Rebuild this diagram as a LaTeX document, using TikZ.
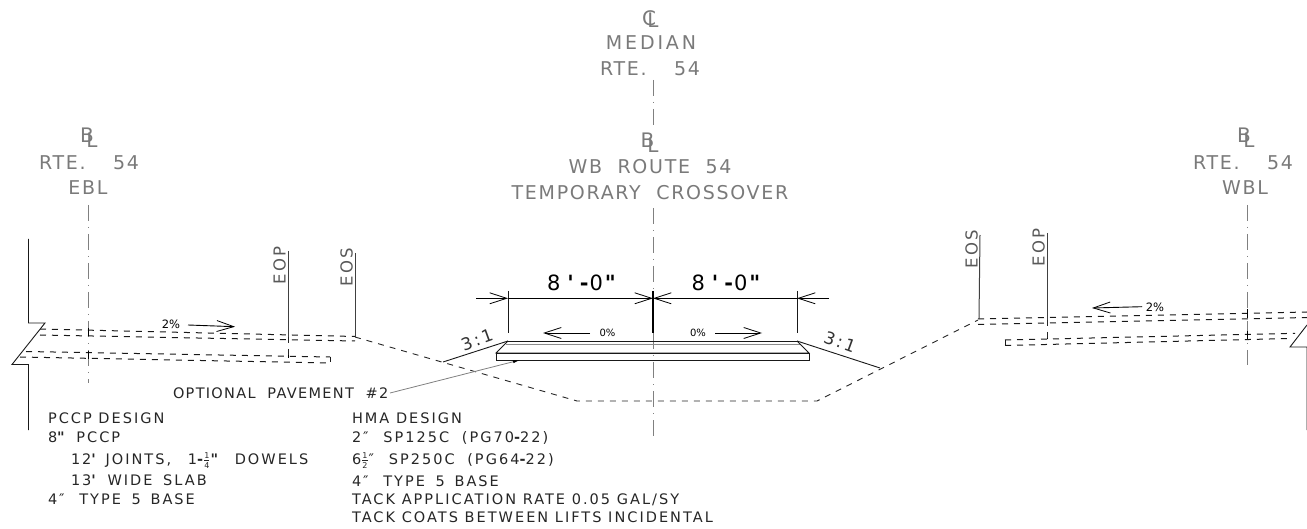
\documentclass[tikz,border=0pt]{standalone}
\usepackage{fontspec}
\setmainfont{DejaVu Sans}
\newfontfamily\cadsmall[LetterSpace=14]{DejaVu Sans}
\newfontfamily\cadopt[LetterSpace=9,WordSpace=2]{DejaVu Sans}
\newfontfamily\cadbig[LetterSpace=9,WordSpace=2]{DejaVu Sans}
\newfontfamily\cadmed[LetterSpace=15]{DejaVu Sans}
\newfontfamily\cadplain{DejaVu Sans}
\usetikzlibrary{arrows.meta}
\newcommand\cadfr[2]{\ensuremath{\frac{\hbox{\fontsize{8}{8}\selectfont #1}}{\hbox{\fontsize{8}{8}\selectfont #2}}}}
\newcommand\cadtick{{\bfseries\char39}}
\newcommand\cadqt{{\bfseries\char34}}
\newcommand\caddash{{\bfseries\char45}}
\newcommand\cadeight{8\hspace{7pt}\cadtick\hspace{6pt}\caddash\hspace{1pt}0\hspace{2pt}\cadqt}
\tikzset{
  x=1pt,y=-1pt,
  txt/.style={inner sep=0pt,outer sep=0pt,anchor=base west,font=\fontsize{14.5}{15}\selectfont\cadsmall,text=black!85},
  big/.style={inner sep=0pt,outer sep=0pt,anchor=base,font=\fontsize{19}{22}\selectfont\cadbig,text=black!52},
  sym/.style={inner sep=0pt,outer sep=0pt,anchor=base,font=\fontsize{20}{22}\selectfont,text=black!52},
  eo/.style={inner sep=0pt,outer sep=0pt,anchor=base west,rotate=90,font=\fontsize{16.5}{18}\selectfont\cadmed,text=black!65},
  pct/.style={inner sep=0pt,outer sep=0pt,anchor=center,font=\fontsize{10}{11}\selectfont,text=black},
  dimtxt/.style={inner sep=0pt,outer sep=0pt,anchor=base,font=\fontsize{21}{22}\selectfont\cadplain,text=black},
  slopetxt/.style={inner sep=0pt,outer sep=0pt,anchor=center,font=\fontsize{17}{18}\selectfont\cadmed,text=black!80},
  cl/.style={draw=black!50,line width=1pt,dash pattern=on 16pt off 6pt on 1pt off 6pt},
  road/.style={draw=black!90,line width=1pt,dash pattern=on 6pt off 6pt},
  grade/.style={draw=black!85,line width=0.9pt,dash pattern=on 6pt off 6pt},
  line/.style={draw=black!90,line width=0.9pt},
  eoline/.style={draw=black!75,line width=1pt},
  barb/.style={-{Straight Barb[length=17pt,width=11pt,line width=0.8pt]},draw=black,line width=0.9pt},
  tk/.style={draw=black,line width=1pt}
}
\begin{document}
\begin{tikzpicture}
\useasboundingbox (0,0) rectangle (1307,529);
% center lines
\draw[cl] (88,205) -- (88,383);
\draw[cl] (1247,205) -- (1247,365);
\draw[cl] (653,80) -- (653,125);
\draw[cl] (653,208) -- (653,291);
\draw[cl] (653,333) -- (653,440);
% break lines
\draw[line] (28.5,239) -- (28.5,323) -- (45,323) -- (12,364.5) -- (28.5,364.5) -- (28.5,430);
\draw[line] (1307,220) -- (1307,305);
\draw[line] (1307,325) -- (1290,347) -- (1307,347) -- (1307,430);
% road surfaces, left
\draw[road] (40,329) -- (355,336.5);
\draw[road] (40,335) -- (355,341);
\draw[road] (26,351.5) -- (330,357);
\draw[road] (20,357) -- (330,363);
\draw[line] (330,357) -- (330,362);
% road surfaces, right
\draw[road] (978,319) -- (1307,312);
\draw[road] (978,324.5) -- (1307,317.5);
\draw[road] (1005,340) -- (1295,333.3);
\draw[road] (1005,345.5) -- (1290,338.5);
\draw[line] (1005,340) -- (1005,345);
% crossing ticks
\foreach \a/\b/\c in {88/328/336,88/351/359,1247/309/318,1247/331/339,288/337/341,288/355/358,1047/316/323,1047/336/339}
  \draw[tk] (\a,\b) -- (\a,\c);
% EOP / EOS
\draw[eoline] (288,251) -- (288,337);
\draw[grade] (288,337) -- (288,357);
\draw[eoline] (355,253) -- (355,337);
\draw[eoline] (980,235) -- (979,319);
\draw[eoline] (1047,233) -- (1047,320);
\draw[grade] (1047,320) -- (1047,338);
\node[eo] (eopL) at (285.5,284.5) {EOP};
\node[eo] (eosL) at (352.5,286.5) {EOS};
\node[eo] (eosR) at (977.5,268.5) {EOS};
\node[eo] (eopR) at (1044.5,266.5) {EOP};
% grade lines
\draw[grade] (355,337) -- (577,401) -- (817,401) -- (978,320);
\draw[line] (443,362) -- (508,341);
\draw[line] (797,341) -- (880,368);
% pavement
\draw[line] (508,341) -- (797,341);
\draw[draw=black!45,line width=0.8pt] (506,344) -- (800,344);
\draw[line] (508,341) -- (496,353) -- (809,353) -- (797,341);
\draw[line] (496,353) rectangle (809.5,360);
% dimensions
\coordinate (dl) at (508,298.3);
\coordinate (dc) at (653,298.3);
\coordinate (dr) at (797,298.3);
\draw[line] (508,291) -- (508,333);
\draw[line] (797,291) -- (797,333);
\draw[draw=black,line width=1.2pt] (653,291) -- (653,333);
\draw[barb] (476,298.3) -- (dl);
\draw[barb] (dl) -- (dc);
\draw[barb] (829,298.3) -- (dr);
\draw[barb] (dr) -- (dc);
\node[dimtxt] (dimL) at (581.5,291) {\cadeight};
\node[dimtxt] (dimR) at (726,291) {\cadeight};
% 0 percent
\node[pct] (zeroL) at (607.5,333) {0\%};
\node[pct] (zeroR) at (698,333) {0\%};
\draw[barb] (590,333) -- (543,333);
\draw[barb] (715,333) -- (762,333);
% 2 percent
\node[pct,font=\fontsize{11.5}{12}\selectfont] (twoL) at (171,324) {2\%};
\draw[barb] (188,325) -- (235,326.7);
\node[pct,font=\fontsize{11.5}{12}\selectfont] (twoR) at (1155,307) {2\%};
\draw[barb] (1142,306.7) -- (1092,308);
% slopes
\node[slopetxt,rotate=20] (sL) at (477,340) {3:1};
\node[slopetxt,rotate=-20] (sR) at (840,342) {3:1};
% leader
\node[txt,font=\fontsize{14.5}{15}\selectfont\cadopt] (opt) at (173,398) {OPTIONAL PAVEMENT \#2};
\coordinate (opttip) at (520,360);
\draw[draw=black!50,line width=0.8pt,-{Latex[length=7pt,width=3pt,black]}] (390,393) -- (opttip);
% headings
\node[sym] (c1) at (649,26) {C};
\node[sym] (c2) at (653,28) {L};
\node[big,font=\fontsize{19}{22}\selectfont\cadmed] (h1) at (651,50) {MEDIAN};
\node[big] (h2) at (650,76) {RTE.\hspace{12pt} 54};
\node[sym] (b1) at (647.5,148) {B};
\node[sym] (b2) at (653,153) {L};
\node[big] (h3) at (650,174) {WB ROUTE 54};
\node[big] (h4) at (650,200) {TEMPORARY CROSSOVER};
\node[sym] (b3) at (87,143) {B};
\node[sym] (b4) at (92,148) {L};
\node[big] (h5) at (89,170) {RTE.\hspace{12pt} 54};
\node[big] (h6) at (88,195) {EBL};
\node[sym] (b5) at (1244,143) {B};
\node[sym] (b6) at (1249,148) {L};
\node[big] (h7) at (1243,170) {RTE.\hspace{12pt} 54};
\node[big] (h8) at (1245,195) {WBL};
% notes, PCCP
\node[txt] (p1) at (48,423) {PCCP DESIGN};
\node[txt] (p2) at (48,442) {8\cadqt\hspace{5pt} PCCP};
\node[txt] (p3) at (71,464) {12\cadtick\hspace{3pt} JOINTS,\hspace{10pt} 1\caddash\cadfr{1}{4}\cadqt\hspace{10pt} DOWELS};
\node[txt] (p4) at (71,485) {13\cadtick\hspace{5pt} WIDE\hspace{4pt} SLAB};
\node[txt] (p5) at (48,504) {4″\hspace{8pt} TYPE\hspace{4pt} 5\hspace{3pt} BASE};
% notes, HMA
\node[txt] (m1) at (352,423) {HMA DESIGN};
\node[txt] (m2) at (352,442) {2″\hspace{8pt} SP125C\hspace{6pt} (PG70\caddash22)};
\node[txt] (m3) at (352,464) {6\cadfr{1}{2}″\hspace{8pt} SP250C\hspace{6pt} (PG64\caddash22)};
\node[txt] (m4) at (352,486) {4″\hspace{8pt} TYPE\hspace{4pt} 5\hspace{3pt} BASE};
\node[txt] (m5) at (352,504) {TACK APPLICATION RATE 0.05 GAL/SY};
\node[txt] (m6) at (352,522) {TACK COATS BETWEEN LIFTS INCIDENTAL};
\end{tikzpicture}
\end{document}
